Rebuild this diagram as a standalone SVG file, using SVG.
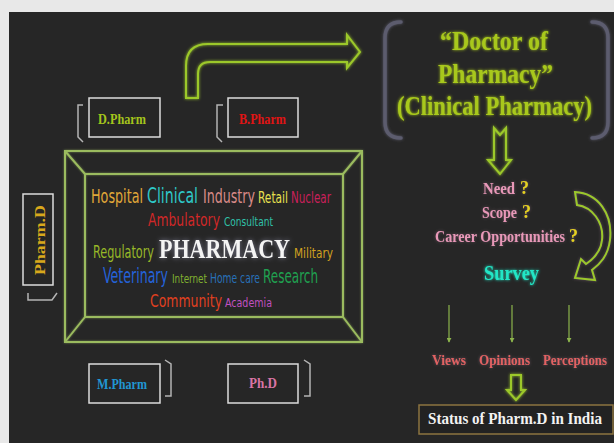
<svg xmlns="http://www.w3.org/2000/svg" width="614" height="443" viewBox="0 0 614 443">
  <defs>
    <filter id="glow" x="-30%" y="-30%" width="160%" height="160%">
      <feGaussianBlur in="SourceGraphic" stdDeviation="1.6" result="b"/>
      <feMerge><feMergeNode in="b"/><feMergeNode in="SourceGraphic"/></feMerge>
    </filter>
    <filter id="faint" x="-10%" y="-10%" width="120%" height="120%">
      <feGaussianBlur in="SourceGraphic" stdDeviation="1" result="b"/>
      <feComponentTransfer in="b" result="c"><feFuncA type="linear" slope="0.6"/></feComponentTransfer>
      <feMerge><feMergeNode in="c"/><feMergeNode in="SourceGraphic"/></feMerge>
    </filter>
    <filter id="halo" x="-20%" y="-40%" width="140%" height="180%">
      <feGaussianBlur in="SourceAlpha" stdDeviation="2.4" result="a"/>
      <feFlood flood-color="#c8c8f0" flood-opacity="0.5"/>
      <feComposite operator="in" in2="a" result="h"/>
      <feMerge><feMergeNode in="h"/><feMergeNode in="SourceGraphic"/></feMerge>
    </filter>
    <filter id="soft" x="-20%" y="-30%" width="140%" height="160%">
      <feGaussianBlur in="SourceAlpha" stdDeviation="1.4" result="a"/>
      <feFlood flood-color="#8a6a7a" flood-opacity="0.6"/>
      <feComposite operator="in" in2="a" result="h"/>
      <feMerge><feMergeNode in="h"/><feMergeNode in="SourceGraphic"/></feMerge>
    </filter>
    <marker id="tip" viewBox="0 0 6 6" refX="5" refY="3" markerWidth="5" markerHeight="5" orient="auto" markerUnits="userSpaceOnUse">
      <path d="M0,0 L6,3 L0,6 Z" fill="#8cb44c"/>
    </marker>
    <style>
      .box { fill: none; stroke: #dcdcdc; stroke-width: 1.5; }
      .brk { fill: none; stroke: #b4b4b4; stroke-width: 1.5; }
      .lbl { font-family: "Liberation Serif", serif; font-weight: bold; font-size: 15px; }
      .cloud { font-family: "Liberation Sans Narrow", "DejaVu Sans Condensed", "Liberation Sans", sans-serif; }
      .serif { font-family: "Liberation Serif", serif; font-weight: bold; }
      .green { fill: none; stroke: #9cc82a; stroke-width: 2; }
      .frame { fill: none; stroke: #9bbb5e; stroke-width: 2; }
      .paren { fill: none; stroke: #5c5c6e; stroke-width: 3.5; stroke-linecap: round; }
      .vline { stroke: #8cb44c; stroke-width: 1.2; marker-end: url(#tip); }
      .q { fill: #e6d21e; font-size: 18px; }
      .ask { fill: #e898b8; font-size: 16px; }
      .out { fill: #e26262; font-size: 15px; }
    </style>
  </defs>

  <!-- page and board -->
  <rect x="0" y="0" width="614" height="443" fill="#e8e8e8"/>
  <rect x="9" y="12" width="605" height="431" fill="#262626"/>

  <!-- central frame with word cloud -->
  <g id="pharmacy-frame">
    <g class="frame" filter="url(#faint)">
      <rect x="65" y="151" width="297" height="191"/>
      <rect x="85" y="174" width="258" height="143"/>
      <path d="M65,151 L85,174 M362,151 L343,174 M65,342 L85,317 M362,342 L343,317"/>
    </g>
    <g class="cloud">
      <text x="91" y="203" font-size="20" fill="#e0a838" textLength="52" lengthAdjust="spacingAndGlyphs">Hospital</text>
      <text x="147" y="203" font-size="21" fill="#2ec8c8" textLength="51" lengthAdjust="spacingAndGlyphs">Clinical</text>
      <text x="203" y="203" font-size="20" fill="#d88a88" textLength="52" lengthAdjust="spacingAndGlyphs">Industry</text>
      <text x="258" y="203" font-size="15" fill="#e8e050" textLength="30" lengthAdjust="spacingAndGlyphs">Retail</text>
      <text x="291" y="203" font-size="15" fill="#c8205a" textLength="40" lengthAdjust="spacingAndGlyphs">Nuclear</text>

      <text x="148" y="226" font-size="18" fill="#d02828" textLength="72" lengthAdjust="spacingAndGlyphs">Ambulatory</text>
      <text x="224" y="226" font-size="13" fill="#30c0a8" textLength="49" lengthAdjust="spacingAndGlyphs">Consultant</text>

      <text x="93" y="258" font-size="17" fill="#98b828" textLength="61" lengthAdjust="spacingAndGlyphs">Regulatory</text>
      <text x="294" y="258" font-size="14" fill="#d0a020" textLength="39" lengthAdjust="spacingAndGlyphs">Military</text>

      <text x="103" y="283" font-size="21" fill="#2462d8" textLength="65" lengthAdjust="spacingAndGlyphs">Veterinary</text>
      <text x="172" y="283" font-size="13" fill="#80b030" textLength="35" lengthAdjust="spacingAndGlyphs">Internet</text>
      <text x="210" y="283" font-size="14" fill="#2870b8" textLength="50" lengthAdjust="spacingAndGlyphs">Home care</text>
      <text x="263" y="283" font-size="19" fill="#20a050" textLength="55" lengthAdjust="spacingAndGlyphs">Research</text>

      <text x="150" y="307" font-size="18" fill="#e04020" textLength="72" lengthAdjust="spacingAndGlyphs">Community</text>
      <text x="225" y="307" font-size="13" fill="#c050c0" textLength="47" lengthAdjust="spacingAndGlyphs">Academia</text>
    </g>
    <text x="159" y="258" class="serif" font-size="28" fill="#f4f4f4" filter="url(#halo)" textLength="131" lengthAdjust="spacingAndGlyphs">PHARMACY</text>
  </g>

  <!-- degree boxes -->
  <g id="dpharm">
    <rect class="box" x="89" y="98" width="71" height="39"/>
    <path class="brk" d="M83,105 L78,105 L78,137 L83,142"/>
    <text class="lbl" x="98" y="124" fill="#a4c41c" textLength="48" lengthAdjust="spacingAndGlyphs">D.Pharm</text>
  </g>
  <g id="bpharm">
    <rect class="box" x="228" y="98" width="70" height="39"/>
    <path class="brk" d="M223,105 L217,105 L217,137 L222,142"/>
    <text class="lbl" x="239" y="124" fill="#e01414" textLength="47" lengthAdjust="spacingAndGlyphs">B.Pharm</text>
  </g>
  <g id="mpharm">
    <rect class="box" x="89" y="364" width="71" height="39"/>
    <path class="brk" d="M165,360 L171,364 L171,396 L165,396"/>
    <text class="lbl" x="97" y="389" fill="#2196d2" textLength="50" lengthAdjust="spacingAndGlyphs">M.Pharm</text>
  </g>
  <g id="phd">
    <rect class="box" x="228" y="364" width="70" height="39"/>
    <path class="brk" d="M304,360 L310,364 L310,396 L304,396"/>
    <text class="lbl" x="249" y="388" fill="#d874a4" textLength="28" lengthAdjust="spacingAndGlyphs">Ph.D</text>
  </g>
  <g id="pharmd">
    <rect class="box" x="23" y="194" width="30" height="91"/>
    <path class="brk" d="M28,293 L28,300 L52,300 L57,293"/>
    <text class="lbl" transform="translate(45,275) rotate(-90)" x="0" y="0" fill="#d8a81c" textLength="70" lengthAdjust="spacingAndGlyphs">Pharm.D</text>
  </g>

  <!-- Doctor of Pharmacy heading -->
  <g id="doctor-of-pharmacy">
    <g filter="url(#glow)">
      <path class="paren" d="M401,22 Q385,22 385,38 L385,122 Q385,138 401,138"/>
      <path class="paren" d="M592,22 Q608,22 608,38 L608,122 Q608,138 592,138"/>
    </g>
    <g class="serif" font-weight="normal" fill="#a8c81c" font-size="28" filter="url(#glow)">
      <text x="440" y="50" textLength="108" lengthAdjust="spacingAndGlyphs">“Doctor of</text>
      <text x="438" y="83" textLength="115" lengthAdjust="spacingAndGlyphs">Pharmacy”</text>
      <text x="397" y="115" textLength="195" lengthAdjust="spacingAndGlyphs">(Clinical Pharmacy)</text>
    </g>
  </g>

  <!-- questions -->
  <g id="questions" class="serif" filter="url(#soft)">
    <text class="ask" x="483" y="194" textLength="32" lengthAdjust="spacingAndGlyphs">Need</text>
    <text class="q" x="520" y="194">?</text>
    <text class="ask" x="482" y="218" textLength="35" lengthAdjust="spacingAndGlyphs">Scope</text>
    <text class="q" x="522" y="218">?</text>
    <text class="ask" x="435" y="242" textLength="130" lengthAdjust="spacingAndGlyphs">Career Opportunities</text>
    <text class="q" x="569" y="242">?</text>
  </g>

  <g id="survey">
    <text class="serif" x="484" y="280" font-size="22" fill="#22e6c6" filter="url(#glow)" textLength="55" lengthAdjust="spacingAndGlyphs">Survey</text>
  </g>

  <g id="outcomes" class="serif" filter="url(#soft)">
    <text class="out" x="432" y="365" textLength="34" lengthAdjust="spacingAndGlyphs">Views</text>
    <text class="out" x="479" y="365" textLength="51" lengthAdjust="spacingAndGlyphs">Opinions</text>
    <text class="out" x="543" y="365" textLength="64" lengthAdjust="spacingAndGlyphs">Perceptions</text>
  </g>

  <g id="status">
    <rect x="419" y="405" width="194" height="29" fill="#222222" stroke="#8c7440" stroke-width="1.5"/>
    <text class="serif" x="428" y="424" font-size="16" fill="#f2f2f2" textLength="174" lengthAdjust="spacingAndGlyphs">Status of Pharm.D in India</text>
  </g>

  <!-- connectors -->
  <g id="connectors">
    <path class="green" filter="url(#glow)" d="M186,98 L186,66 Q186,44 208,44 L347,44 L347,35 L360,52 L347,68 L347,62 L210,62 Q198,62 198,74 L198,98 Z"/>
    <path class="green" stroke-width="1.6" filter="url(#glow)" d="M494,128 L500,135 L506,128 L506,160 L511,160 L500,174 L488,160 L494,160 Z"/>
    <path class="green" stroke="#90b840" stroke-width="1.6" filter="url(#soft)" d="M575,192 C598,193 613,214 610,240 C608,256 600,264 592,270 L595,280 L575,278 L581,259 L586,264 C595,258 601,250 602,240 C604,222 592,207 577,205 Z"/>
    <line class="vline" x1="449" y1="305" x2="449" y2="342"/>
    <line class="vline" x1="512" y1="305" x2="512" y2="342"/>
    <line class="vline" x1="569" y1="305" x2="569" y2="342"/>
    <path class="green" stroke-width="1.6" filter="url(#glow)" d="M511,375 L521,375 L521,390 L525,390 L516,400 L507,390 L511,390 Z"/>
  </g>
</svg>
